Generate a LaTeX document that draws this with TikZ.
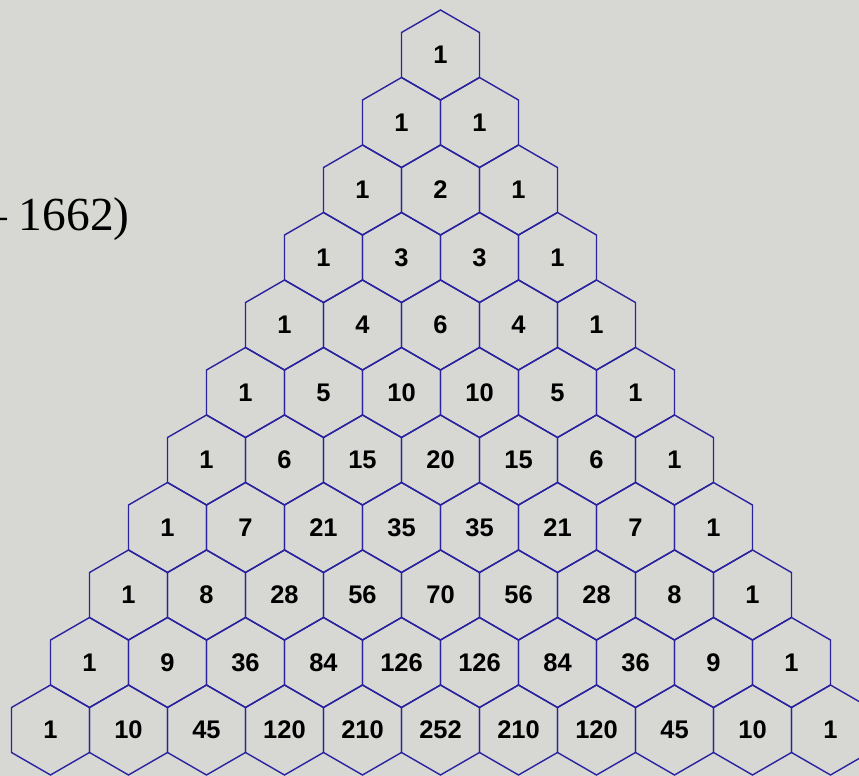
\documentclass[tikz,border=0pt]{standalone}
\usepackage{fontspec}
\setmainfont{Liberation Serif}
\newfontfamily\cellfont{Liberation Sans}
\usepackage{xcolor}
\usepackage{tikz}
\usetikzlibrary{shapes.geometric}

\definecolor{paper}{RGB}{215,216,211}
\definecolor{hexline}{RGB}{42,34,158}

\begin{document}
\begin{tikzpicture}[
            x=0.02cm, y=-0.02cm,
            cell/.style={regular polygon, regular polygon sides=6,
            shape border rotate=30, draw=hexline, line width=0.8pt,
            minimum size=1.8cm, inner sep=0pt,
            font=\cellfont\bfseries\fontsize{14.5}{16}\selectfont},
            date/.style={anchor=base east, inner sep=0pt,
            font=\fontsize{27}{32}\selectfont}
        ]
% canvas
            \useasboundingbox (0,0) rectangle (859,776);
            \fill[paper] (0,0) rectangle (859,776);
            \clip (0,0) rectangle (859,776);
% title fragment (cut at the left edge)
            \node[date] (yr) at (130,231) {– 1662)};
% the triangle, one row per list
            \foreach \row [count=\r from 0] in {
                {1},
                {1,1},
                {1,2,1},
                {1,3,3,1},
                {1,4,6,4,1},
                {1,5,10,10,5,1},
                {1,6,15,20,15,6,1},
                {1,7,21,35,35,21,7,1},
                {1,8,28,56,70,56,28,8,1},
                {1,9,36,84,126,126,84,36,9,1},
                {1,10,45,120,210,252,210,120,45,10,1}} {
                \foreach \v [count=\k from 0] in \row {
                    \node[cell] (c-\r-\k) at ({440.5+(\k-\r/2)*78}, {55+\r*67.5}) {\v};
                }
            }
        \end{tikzpicture}
\end{document}
